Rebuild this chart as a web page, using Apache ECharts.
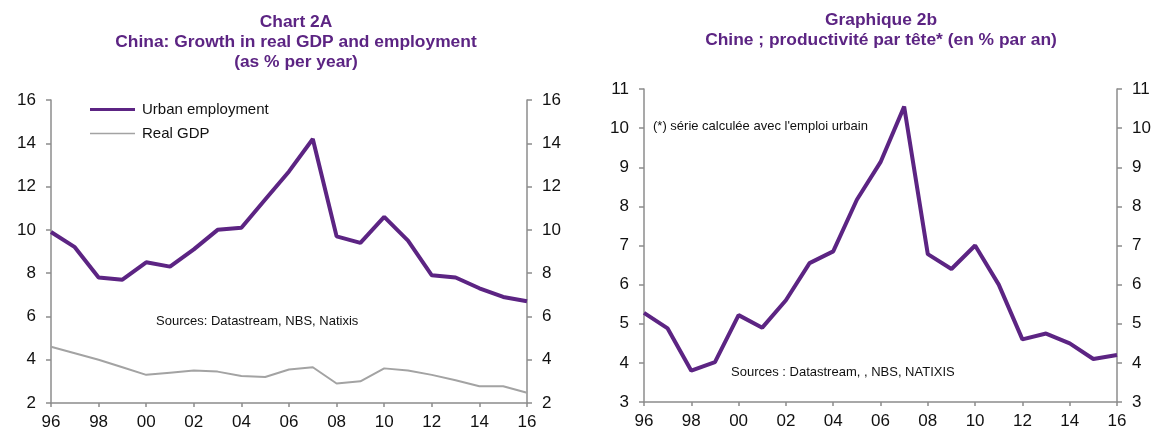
<!DOCTYPE html>
<html>
<head>
<meta charset="utf-8">
<script src="https://cdn.jsdelivr.net/npm/echarts@6/dist/echarts.min.js"></script>
<style>
  html, body { margin: 0; padding: 0; background: #fff; }
  #main { width: 1165px; height: 441px; }
</style>
</head>
<body>
<div id="main"></div>
<script>
// years 1996..2016, labelled with two digits
var years = ['96', '97', '98', '99', '00', '01', '02', '03', '04', '05', '06',
             '07', '08', '09', '10', '11', '12', '13', '14', '15', '16'];

// chart 2A: growth in % per year
var urbanEmployment = [9.9, 9.2, 7.8, 7.7, 8.5, 8.3, 9.1, 10.0, 10.1, 11.4, 12.7,
                       14.2, 9.7, 9.4, 10.6, 9.5, 7.9, 7.8, 7.3, 6.9, 6.7];
var realGdp = [4.6, 4.3, 4.0, 3.65, 3.3, 3.4, 3.5, 3.45, 3.25, 3.2, 3.55,
               3.65, 2.9, 3.0, 3.6, 3.5, 3.3, 3.05, 2.77, 2.77, 2.47];

// chart 2b: productivity per head, % per year
var productivity = [5.28, 4.88, 3.8, 4.02, 5.22, 4.9, 5.6, 6.55, 6.85, 8.17, 9.13,
                    10.55, 6.78, 6.4, 7.0, 6.0, 4.6, 4.75, 4.5, 4.1, 4.2];

var purple = '#5c2483';
var grey = '#a3a3a3';
var axisGrey = '#8c8c8c';
var font = 'Liberation Sans, Arial, sans-serif';

function xAxisFor(grid) {
    return {
        type: 'category',
        gridIndex: grid,
        data: years,
        boundaryGap: false,
        axisLine: { lineStyle: { color: axisGrey, width: 1.5 } },
        axisTick: { interval: 1, length: 4, lineStyle: { color: axisGrey, width: 1.5 } },
        axisLabel: { interval: 1, color: '#111', fontSize: 17, fontFamily: font, margin: 11 },
        splitLine: { show: false }
    };
}

function yAxisFor(grid, pos, min, max, interval) {
    return {
        type: 'value',
        gridIndex: grid,
        position: pos,
        min: min,
        max: max,
        interval: interval,
        axisLine: { show: true, lineStyle: { color: axisGrey, width: 1.5 } },
        axisTick: { show: true, length: 5, lineStyle: { color: axisGrey, width: 1.5 } },
        axisLabel: { color: '#111', fontSize: 17, fontFamily: font, margin: 15 },
        splitLine: { show: false }
    };
}

var titleStyle = { color: purple, fontSize: 17.4, fontWeight: 'bold', fontFamily: font, lineHeight: 20 };

var option = {
    backgroundColor: '#fff',
    animation: false,
    title: [
        {
            text: 'Chart 2A\nChina: Growth in real GDP and employment\n(as % per year)',
            left: 291, top: 7, textAlign: 'center',
            textStyle: titleStyle
        },
        {
            text: 'Graphique 2b\nChine ; productivité par tête* (en % par an)',
            left: 876, top: 5, textAlign: 'center',
            textStyle: titleStyle
        }
    ],
    legend: {
        orient: 'vertical',
        left: 85,
        top: 97,
        itemWidth: 45,
        itemHeight: 10,
        itemGap: 9,
        textStyle: { color: '#111', fontSize: 15, fontFamily: font, padding: [0, 0, 0, 2] },
        data: [
            { name: 'Urban employment', icon: 'path://M0,3.5 L45,3.5 L45,6.5 L0,6.5 Z', itemStyle: { color: purple } },
            { name: 'Real GDP', icon: 'path://M0,4.3 L45,4.3 L45,5.7 L0,5.7 Z', itemStyle: { color: grey } }
        ]
    },
    grid: [
        { left: 51, right: 638, top: 100, bottom: 38 },
        { left: 644, right: 48, top: 89, bottom: 39 }
    ],
    xAxis: [xAxisFor(0), xAxisFor(1)],
    yAxis: [
        yAxisFor(0, 'left', 2, 16, 2),
        yAxisFor(0, 'right', 2, 16, 2),
        yAxisFor(1, 'left', 3, 11, 1),
        yAxisFor(1, 'right', 3, 11, 1)
    ],
    graphic: [
        {
            type: 'text', left: 156, top: 315,
            style: { text: 'Sources: Datastream, NBS, Natixis', fill: '#111', font: '13px ' + font }
        },
        {
            type: 'text', left: 731, top: 366,
            style: { text: 'Sources : Datastream, , NBS, NATIXIS', fill: '#111', font: '13px ' + font }
        },
        {
            type: 'text', left: 653, top: 120,
            style: { text: "(*) série calculée avec l'emploi urbain", fill: '#111', font: '13px ' + font }
        }
    ],
    series: [
        {
            name: 'Urban employment', type: 'line', xAxisIndex: 0, yAxisIndex: 0,
            data: urbanEmployment, showSymbol: false,
            lineStyle: { color: purple, width: 4 }, itemStyle: { color: purple }
        },
        {
            name: 'Real GDP', type: 'line', xAxisIndex: 0, yAxisIndex: 0,
            data: realGdp, showSymbol: false,
            lineStyle: { color: grey, width: 2 }, itemStyle: { color: grey }
        },
        {
            name: 'Productivity', type: 'line', xAxisIndex: 1, yAxisIndex: 2,
            data: productivity, showSymbol: false,
            lineStyle: { color: purple, width: 4 }, itemStyle: { color: purple }
        }
    ]
};

var chart = echarts.init(document.getElementById('main'));
chart.setOption(option);
</script>
</body>
</html>
